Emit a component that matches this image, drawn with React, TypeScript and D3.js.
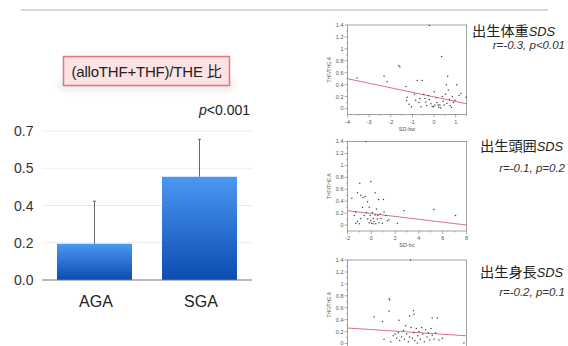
import React from "react";
import * as d3 from "d3";

// bar chart: (alloTHF+THF)/THE ratio
const barCategories = ["AGA", "SGA"];
const barMeans = [0.17, 0.485];
const barSD = [0.2, 0.176];
const barTickValues = [0, 0.175, 0.35, 0.525, 0.7];
const barTickLabels = ["0.0", "0.2", "0.4", "0.5", "0.7"];

// scatter panels, [SDS, THF/THE]
const bwPoints = [
  [-3.56, 0.51], [-2.31, 0.54], [-2.17, 0.45], [-1.63, 0.72], [-1.58, 0.7], [-1.3, 0.37],
  [-1.24, 0.19], [-1.27, 0.13], [-1.16, 0.07], [-1.04, 0.03], [-0.78, 0.47], [-0.55, 0.47],
  [-0.91, 0.24], [-0.85, 0.14], [-0.65, 0.17], [-0.6, 0.03], [-0.48, 0.24], [-0.42, 0.17],
  [-0.38, 0.11], [-0.34, 0.05], [-0.22, 1.39], [-0.26, 0.22], [-0.22, 0.15], [-0.14, 0.08],
  [-0.08, 0.03], [0.01, 0.28], [0.1, 0.18], [0.13, 0.1], [0.19, 0.06], [0.27, 0.06],
  [0.31, 0.01], [0.35, 0.87], [0.38, 0.2], [0.42, 0.12], [0.47, 0.06], [0.54, 0.24],
  [0.57, 0.4], [0.63, 0.54], [0.66, 0.31], [0.71, 0.15], [0.75, 0.05], [0.85, 0.2],
  [0.9, 0.1], [0.97, 0.14], [1.05, 0.4], [1.16, 0.22], [1.25, 0.25], [1.48, 0.19],
  [0.04, 0.06], [-0.02, 0.04], [0.22, 0.02], [0.6, 0.09], [-0.7, 0.1], [0.8, 0.02],
];
const hcPoints = [
  [-0.46, 1.4], [-1.64, 0.45], [-1.16, 0.54], [-0.97, 0.7], [-0.88, 0.5], [-0.69, 0.46],
  [-0.52, 0.48], [-0.32, 0.39], [-0.04, 0.73], [0.32, 0.54], [-1.3, 0.22], [-1.44, 0.16],
  [-1.16, 0.06], [-1.02, 0.02], [-0.88, 0.11], [-0.74, 0.3], [-0.6, 0.16], [-0.41, 0.21],
  [-0.3, 0.1], [-0.18, 0.3], [-0.1, 0.16], [-0.04, 0.07], [0.04, 0.03], [0.09, 0.21],
  [0.18, 0.11], [0.23, 0.06], [0.32, 0.17], [0.37, 0.02], [0.43, 0.27], [0.51, 0.1],
  [0.6, 0.43], [0.65, 0.04], [0.74, 0.18], [0.82, 0.11], [0.93, 0.03], [1.02, 0.43],
  [1.07, 0.22], [1.21, 0.16], [1.35, 0.07], [1.49, 0.09], [2.19, 0.03], [2.75, 0.24],
  [5.26, 0.26], [7.08, 0.16], [-0.18, 0.04], [0.15, 0.02], [0.54, 0.16], [-1.3, 0.03],
];
const blPoints = [
  [-0.82, 1.4], [-2.66, 0.45], [-2.24, 0.37], [-1.9, 0.75], [-1.87, 0.73], [-1.9, 0.54],
  [-1.4, 0.39], [-0.87, 0.46], [-0.68, 0.55], [-0.65, 0.49], [0.27, 0.43], [0.53, 0.43],
  [-2.16, 0.07], [-1.82, 0.03], [-1.7, 0.13], [-1.6, 0.16], [-1.52, 0.09], [-1.44, 0.18],
  [-1.37, 0.05], [-1.27, 0.11], [-1.18, 0.22], [-1.13, 0.07], [-1.07, 0.3], [-1.02, 0.16],
  [-0.93, 0.03], [-0.87, 0.11], [-0.8, 0.27], [-0.73, 0.09], [-0.66, 0.18], [-0.6, 0.05],
  [-0.53, 0.25], [-0.46, 0.13], [-0.4, 0.2], [-0.33, 0.07], [-0.26, 0.27], [-0.2, 0.16],
  [-0.13, 0.03], [-0.06, 0.23], [0.01, 0.11], [0.07, 0.18], [0.14, 0.06], [0.21, 0.25],
  [0.27, 0.14], [0.36, 0.07], [0.44, 0.18], [0.61, 0.06], [0.78, 0.09], [1.87, 0.01],
  [-0.48, 0.01],
];
const bwFit = [[-4, 0.5], [1.5, 0.08]];
const hcFit = [[-2, 0.24], [8, 0.0]];
const blFit = [[-4, 0.26], [2, 0.13]];

const scatterYTicks = [0, 0.2, 0.4, 0.6, 0.8, 1, 1.2, 1.4];

const SANS = "'Liberation Sans', Arial, 'Noto Sans CJK JP', sans-serif";
const CJK = "'Noto Sans CJK JP', sans-serif";

function Scatter({ top, xDomain, xTicks, xMinor, xLabel, pts, fit }) {
  const left = 347.5, right = 466.5, bottom = top + 89.5;
  const x = d3.scaleLinear().domain(xDomain).range([left, right]);
  const y = d3.scaleLinear().domain([-0.1, 1.4]).range([bottom, top]);
  const yMinor = scatterYTicks.slice(1).map((t) => t - 0.1);
  const line = d3.line().x((d) => x(d[0])).y((d) => y(d[1]));
  const fmt = d3.format("~g");
  return (
    <g>
      <rect x={left} y={top} width={right - left} height={bottom - top} fill="#fff" stroke="#8a8a8a" strokeWidth={0.8} />
      {scatterYTicks.map((t) => (
        <g key={t}>
          <line x1={left - 3} x2={left} y1={y(t)} y2={y(t)} stroke="#777" strokeWidth={0.6} />
          <text x={left - 4} y={y(t)} dy="0.35em" textAnchor="end" fontSize={5.5} fill="#555" fontFamily={SANS}>
            {fmt(t)}
          </text>
        </g>
      ))}
      {yMinor.map((t) => (
        <line key={t} x1={left - 1.5} x2={left} y1={y(t)} y2={y(t)} stroke="#777" strokeWidth={0.5} />
      ))}
      {xTicks.map((t) => (
        <g key={t}>
          <line x1={x(t)} x2={x(t)} y1={bottom} y2={bottom + 3} stroke="#777" strokeWidth={0.6} />
          <text x={x(t)} y={bottom + 9} textAnchor="middle" fontSize={5.5} fill="#555" fontFamily={SANS}>
            {t < 0 ? "-" + Math.abs(t) : t}
          </text>
        </g>
      ))}
      {xMinor.map((t) => (
        <line key={t} x1={x(t)} x2={x(t)} y1={bottom} y2={bottom + 1.5} stroke="#777" strokeWidth={0.5} />
      ))}
      {xLabel && (
        <text x={(left + right) / 2} y={bottom + 16} textAnchor="middle" fontSize={5.5} fill="#555" fontFamily={SANS}>
          {xLabel}
        </text>
      )}
      <text
        transform={`translate(${left - 17},${(top + bottom) / 2}) rotate(-90)`}
        textAnchor="middle" fontSize={5} fill="#555" fontFamily={SANS}
      >
        THF/THE A
      </text>
      <path d={line(fit)} fill="none" stroke="#d9727e" strokeWidth={1} />
      {pts.map((p, i) => (
        <circle key={i} cx={x(p[0])} cy={y(p[1])} r={0.75} fill="#444" />
      ))}
    </g>
  );
}

function PanelTitle({ x, y, jp }) {
  return (
    <text x={x} y={y} fontSize={14.2} fill="#222" fontFamily={CJK}>
      {jp}
      <tspan fontFamily={SANS} fontStyle="italic" fontSize={12.8}>SDS</tspan>
    </text>
  );
}

export default function App() {
  const yScale = d3.scaleLinear().domain([0, 0.7]).range([280, 131]);
  const xScale = d3.scaleBand().domain(barCategories).range([42, 252]).paddingInner(0.286).paddingOuter(0.143);
  const bw = xScale.bandwidth();

  return (
    <svg width={568} height={346} style={{ position: "absolute", left: 0, top: 0, background: "#fff" }}>
      <defs>
        <linearGradient id="barGrad" x1="0" y1="0" x2="0" y2="1">
          <stop offset="0%" stopColor="#4a98f2" />
          <stop offset="100%" stopColor="#0b4cb0" />
        </linearGradient>
        <filter id="soft" x="-20%" y="-100%" width="140%" height="300%">
          <feGaussianBlur stdDeviation="4" />
        </filter>
      </defs>

      <line x1={21} x2={548} y1={10} y2={10} stroke="#b0b0b0" strokeWidth={1} />

      {/* title box */}
      <rect x={60} y={80} width={173} height={9} fill="#000" opacity={0.12} filter="url(#soft)" />
      <rect x={63.5} y={56.5} width={166} height={29} fill="#fde2e3" stroke="#e7737c" strokeWidth={1.5} />
      <text x={146.5} y={77} textAnchor="middle" fontSize={15} fill="#222" fontFamily={SANS} letterSpacing={-0.2}>
        (alloTHF+THF)/THE <tspan fontFamily={CJK}>比</tspan>
      </text>

      <text x={250} y={114.5} textAnchor="end" fontSize={14} fill="#222" fontFamily={SANS}>
        <tspan fontStyle="italic">p</tspan>&lt;0.001
      </text>

      {/* bar chart */}
      {barTickValues.map((t, i) => (
        <g key={t}>
          {t > 0 && <line x1={42} x2={252} y1={yScale(t)} y2={yScale(t)} stroke="#ececec" strokeWidth={1} />}
          <text x={33.5} y={yScale(t)} dy="0.36em" textAnchor="end" fontSize={14} fill="#333" fontFamily={SANS}>
            {barTickLabels[i]}
          </text>
        </g>
      ))}
      {barCategories.map((c, i) => {
        const cx = xScale(c) + bw / 2;
        return (
          <g key={c}>
            <line x1={cx} x2={cx} y1={yScale(barMeans[i])} y2={yScale(barMeans[i] + barSD[i])} stroke="#666" strokeWidth={1} />
            <line x1={cx - 1.5} x2={cx + 1.5} y1={yScale(barMeans[i] + barSD[i])} y2={yScale(barMeans[i] + barSD[i])} stroke="#666" strokeWidth={1} />
            <rect x={xScale(c)} y={yScale(barMeans[i])} width={bw} height={yScale(0) - yScale(barMeans[i])} fill="url(#barGrad)" />
            <text x={cx + 1.5} y={306.5} textAnchor="middle" fontSize={16} fill="#222" fontFamily={SANS}>
              {c}
            </text>
          </g>
        );
      })}
      <line x1={42} x2={252} y1={yScale(0)} y2={yScale(0)} stroke="#777" strokeWidth={1.2} />

      {/* scatter panels */}
      <Scatter top={25} xDomain={[-4, 1.5]} xTicks={[-4, -3, -2, -1, 0, 1]}
        xMinor={[-3.5, -2.5, -1.5, -0.5, 0.5, 1.5]} xLabel="SD-bw" pts={bwPoints} fit={bwFit} />
      <Scatter top={141.5} xDomain={[-2, 8]} xTicks={[-2, 0, 2, 4, 6, 8]}
        xMinor={[-1, 1, 3, 5, 7]} xLabel="SD-hc" pts={hcPoints} fit={hcFit} />
      <Scatter top={260} xDomain={[-4, 2]} xTicks={[]}
        xMinor={[]} xLabel="" pts={blPoints} fit={blFit} />

      {/* panel titles */}
      <PanelTitle x={472} y={36} jp="出生体重" />
      <text x={565} y={49} textAnchor="end" fontSize={11.5} fill="#333" fontFamily={SANS} fontStyle="italic">
        r=-0.3, p&lt;0.01
      </text>
      <PanelTitle x={480} y={151} jp="出生頭囲" />
      <text x={565} y={172} textAnchor="end" fontSize={11.5} fill="#333" fontFamily={SANS} fontStyle="italic">
        r=-0.1, p=0.2
      </text>
      <PanelTitle x={480} y={277} jp="出生身長" />
      <text x={565} y={296} textAnchor="end" fontSize={11.5} fill="#333" fontFamily={SANS} fontStyle="italic">
        r=-0.2, p=0.1
      </text>
    </svg>
  );
}
